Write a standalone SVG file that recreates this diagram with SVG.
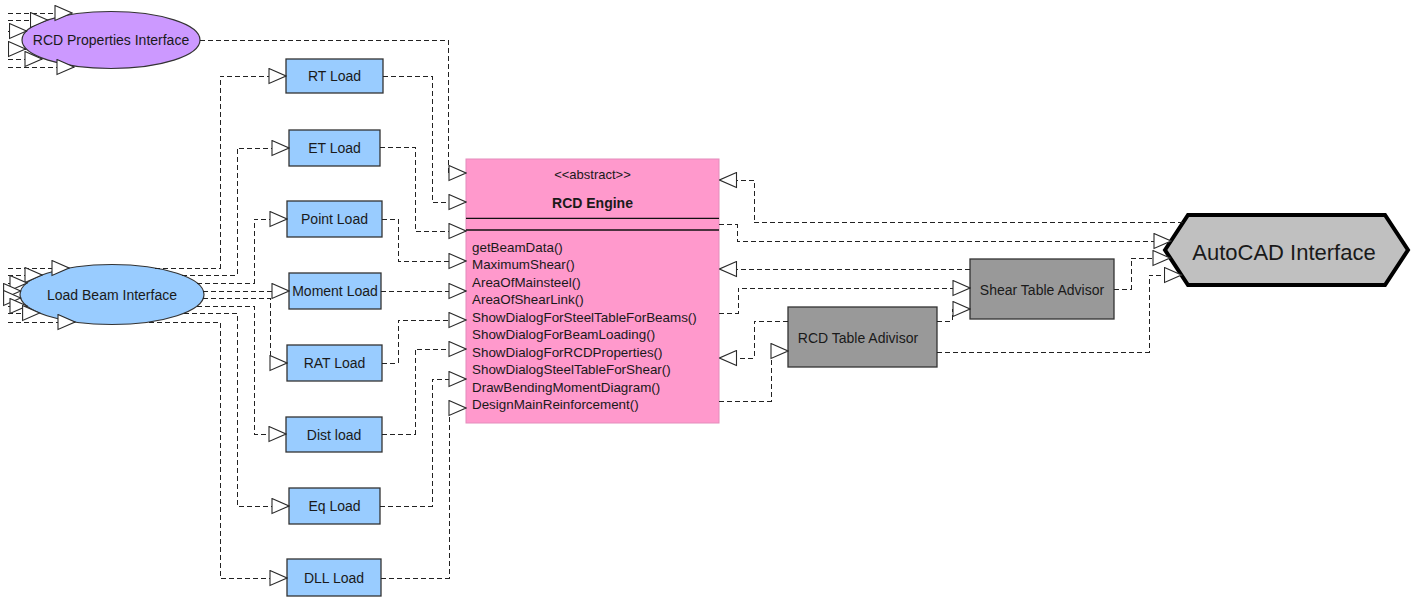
<svg xmlns="http://www.w3.org/2000/svg" width="1416" height="597" viewBox="0 0 1416 597">
<defs>
<marker id="tri" markerUnits="userSpaceOnUse" viewBox="-1 -1 19 17" refX="17" refY="7.5" markerWidth="19" markerHeight="17" orient="auto">
<path d="M0,0 L17,7.5 L0,15 Z" fill="#ffffff" stroke="#2a2a2a" stroke-width="1.1" stroke-dasharray="none" shape-rendering="auto"/>
</marker>
<style>
.t{font-family:"Liberation Sans",Arial,sans-serif;font-size:14px;fill:#1a1a1a;text-anchor:middle}
.m{font-family:"Liberation Sans",Arial,sans-serif;font-size:13.4px;fill:#1a1a1a}
.load{fill:#99ccff;stroke:#333333;stroke-width:1.3}
.adv{fill:#999999;stroke:#333333;stroke-width:1.3}
.c path{fill:none;stroke:#222222;stroke-width:1;stroke-dasharray:5,3;marker-end:url(#tri);shape-rendering:crispEdges}
</style>
</defs>
<rect width="1416" height="597" fill="#ffffff"/>

<g id="rcd-properties-interface">
<ellipse cx="111" cy="40" rx="89" ry="28.5" fill="#cc99ff" stroke="#333333" stroke-width="1.2"/>
<text class="t" x="111" y="45">RCD Properties Interface</text>
</g>
<g id="load-beam-interface">
<ellipse cx="112" cy="294.5" rx="92" ry="30" fill="#99ccff" stroke="#333333" stroke-width="1.2"/>
<text class="t" x="112" y="300">Load Beam Interface</text>
</g>
<g id="rt-load"><rect class="load" x="286" y="59" width="97" height="34"/><text class="t" x="334.5" y="81">RT Load</text></g>
<g id="et-load"><rect class="load" x="289" y="130" width="91" height="36"/><text class="t" x="334.5" y="153">ET Load</text></g>
<g id="point-load"><rect class="load" x="287" y="201" width="95" height="36"/><text class="t" x="334.5" y="224">Point Load</text></g>
<g id="moment-load"><rect class="load" x="289" y="273" width="92" height="36"/><text class="t" x="335" y="296">Moment Load</text></g>
<g id="rat-load"><rect class="load" x="287" y="345" width="95" height="36"/><text class="t" x="334.5" y="368">RAT Load</text></g>
<g id="dist-load"><rect class="load" x="286" y="417" width="96" height="35"/><text class="t" x="334" y="439.5">Dist load</text></g>
<g id="eq-load"><rect class="load" x="289" y="488" width="91" height="36"/><text class="t" x="334.5" y="511">Eq Load</text></g>
<g id="dll-load"><rect class="load" x="287" y="559" width="94" height="37"/><text class="t" x="334" y="582.5">DLL Load</text></g>

<g id="rcd-engine">
<rect x="466" y="159" width="253" height="264" fill="#ff99cc" stroke="#e48cbc" stroke-width="1"/>
<text class="t" x="592.5" y="178.5" style="font-size:13px">&lt;&lt;abstract&gt;&gt;</text>
<text class="t" x="592.5" y="208" style="font-weight:bold">RCD Engine</text>
<line x1="466" y1="218.3" x2="719" y2="218.3" stroke="#111111" stroke-width="1.3"/>
<line x1="466" y1="230" x2="719" y2="230" stroke="#111111" stroke-width="1.3"/>
<text class="m" x="472" y="252">getBeamData()</text>
<text class="m" x="472" y="269.3">MaximumShear()</text>
<text class="m" x="472" y="286.8">AreaOfMainsteel()</text>
<text class="m" x="472" y="304.2">AreaOfShearLink()</text>
<text class="m" x="472" y="321.7">ShowDialogForSteelTableForBeams()</text>
<text class="m" x="472" y="339.1">ShowDialogForBeamLoading()</text>
<text class="m" x="472" y="356.6">ShowDialogForRCDProperties()</text>
<text class="m" x="472" y="374">ShowDialogSteelTableForShear()</text>
<text class="m" x="472" y="391.5">DrawBendingMomentDiagram()</text>
<text class="m" x="472" y="409">DesignMainReinforcement()</text>
</g>

<g id="shear-table-advisor"><rect class="adv" x="970" y="259" width="144" height="60"/><text class="t" x="1042" y="295">Shear Table Advisor</text></g>
<g id="rcd-table-adivisor"><rect class="adv" x="788" y="307" width="149" height="60"/><text class="t" x="858" y="343">RCD Table Adivisor</text></g>
<g id="autocad-interface">
<polygon points="1165,250 1188,215 1385,215 1408,250 1385,285 1188,285" fill="#c0c0c0" stroke="#000000" stroke-width="4" stroke-linejoin="miter"/>
<text class="t" x="1284" y="259.5" style="font-size:22px">AutoCAD Interface</text>
</g>

<g id="connectors" class="c">
<path d="M8 13 H72"/>
<path d="M8 20 H47.5"/>
<path d="M8 31 H26.5"/>
<path d="M8 49 H25.5"/>
<path d="M8 59 H42"/>
<path d="M8 67 H74"/>
<path d="M8 268 H69"/>
<path d="M8 275 H42"/>
<path d="M8 283 H27"/>
<path d="M4 291 H20.6"/>
<path d="M4 298 H20.6"/>
<path d="M8 306 H27"/>
<path d="M8 313 H39.6"/>
<path d="M8 322 H75"/>
<path d="M155 268 H220 V76 H286"/>
<path d="M182 275 H237 V148 H289"/>
<path d="M197 283 H254 V219 H287"/>
<path d="M203 291 H289"/>
<path d="M203 298 H270 V363 H287"/>
<path d="M197 306 H254 V434 H286"/>
<path d="M184 313 H237 V506 H289"/>
<path d="M149 322 H220 V578 H287"/>
<path d="M200 40 H448 V173 H466"/>
<path d="M383 76 H432 V202 H466"/>
<path d="M380 147 H415 V231 H466"/>
<path d="M382 219 H398 V261 H466"/>
<path d="M381 291 H466"/>
<path d="M382 363 H398 V320 H466"/>
<path d="M382 434 H415 V349 H466"/>
<path d="M380 506 H432 V379 H466"/>
<path d="M381 578 H449 V408 H466"/>
<path d="M1183 222.5 H754 V180 H719.5"/>
<path d="M719 224.5 H737 V241 H1171"/>
<path d="M970 269 H719.5"/>
<path d="M719 313 H738 V288 H970"/>
<path d="M788 321 H754 V358 H719.5"/>
<path d="M719 401 H771 V351 H788"/>
<path d="M937 321 H952 V309 H970"/>
<path d="M937 352 H1149 V275 H1181.5"/>
<path d="M1114 289 H1131 V258 H1170"/>
</g>
</svg>
